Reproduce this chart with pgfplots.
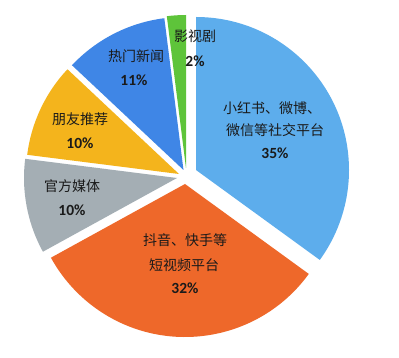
\documentclass[border=0pt]{standalone}
\usepackage{pgfplots}
\pgfplotsset{compat=1.18}
\usepackage{fontspec}
\setmainfont{Carlito}
\newfontfamily\cjk{Noto Sans CJK SC}

\definecolor{cSocial}{HTML}{5DADEC}
\definecolor{cVideo}{HTML}{EE682A}
\definecolor{cOfficial}{HTML}{A4AEB4}
\definecolor{cFriend}{HTML}{F4B41C}
\definecolor{cNews}{HTML}{3F86E6}
\definecolor{cDrama}{HTML}{5EC43A}
\definecolor{txt}{HTML}{1A1A1A}

% running start angle of the next wedge (clockwise from the top)
\gdef\curang{90}
\newcommand\pieR{153pt}
% \pieslice{percent}{centre x}{centre y}{colour}
\newcommand\pieslice[4]{%
  \pgfmathsetmacro\endang{\curang-3.6*#1}%
  \edef\doslice{\noexpand\fill[#4] (axis cs:#2,#3) -- ++(\curang:\pieR)
    arc[start angle=\curang, end angle=\endang, radius=\pieR] -- cycle;}%
  \doslice
  \global\let\curang\endang
}
\newcommand\nm[1]{{\cjk\fontsize{14}{16}\selectfont #1}}
\newcommand\pc[1]{{\fontsize{15.5}{17}\selectfont\bfseries #1}}

\begin{document}
\begin{tikzpicture}
\begin{axis}[x=1pt, y=1pt, xmin=0, xmax=399, ymin=0, ymax=349,
  hide axis, clip=false]
  \fill[white] (axis cs:0,0) rectangle (axis cs:399,349);
  % share (%), exploded centre of each wedge
  \pieslice{35}{196}{179}{cSocial}
  \pieslice{32}{185}{165}{cVideo}
  \pieslice{10}{177}{171}{cOfficial}
  \pieslice{10}{179}{175}{cFriend}
  \pieslice{11}{183.5}{179}{cNews}
  \pieslice{2}{186}{181}{cDrama}

  \begin{scope}[every node/.style={text=txt, inner sep=0pt, anchor=center}]
  \node at (axis cs:195,313) {\nm{影视剧}};
  \node at (axis cs:195,288) {\pc{2\%}};
  \node at (axis cs:136,293) {\nm{热门新闻}};
  \node at (axis cs:134,269) {\pc{11\%}};
  \node at (axis cs:80,230) {\nm{朋友推荐}};
  \node at (axis cs:80,206) {\pc{10\%}};
  \node at (axis cs:72,163) {\nm{官方媒体}};
  \node at (axis cs:72,139) {\pc{10\%}};
  \node at (axis cs:185,109) {\nm{抖音、快手等}};
  \node at (axis cs:184,84) {\nm{短视频平台}};
  \node at (axis cs:185,61) {\pc{32\%}};
  \node at (axis cs:272,241) {\nm{小红书、微博、}};
  \node at (axis cs:275,219) {\nm{微信等社交平台}};
  \node at (axis cs:275,196) {\pc{35\%}};
  \end{scope}
\end{axis}
\end{tikzpicture}
\end{document}
